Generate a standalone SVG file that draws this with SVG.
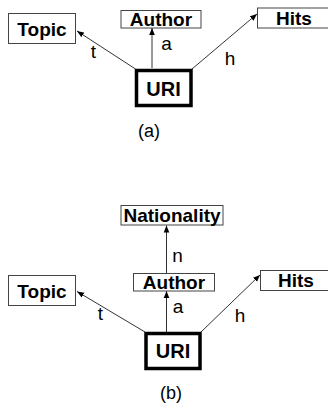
<svg xmlns="http://www.w3.org/2000/svg" width="328" height="410" viewBox="0 0 328 410">
<style>
.box{fill:#fff;stroke:#444;stroke-width:1}
.uri{fill:#fff;stroke:#000;stroke-width:3.5}
.nl{font-family:"Liberation Sans",Arial,sans-serif;font-weight:bold;font-size:19px;fill:#000;text-anchor:middle}
.ul{font-family:"Liberation Sans",Arial,sans-serif;font-weight:bold;font-size:20px;fill:#000;text-anchor:middle}
.el{font-family:"Liberation Sans",Arial,sans-serif;font-size:19px;fill:#000;text-anchor:middle}
.cap{font-family:"Liberation Sans",Arial,sans-serif;font-size:18px;fill:#000;text-anchor:middle}
.edge{stroke:#333;stroke-width:1;fill:none;marker-end:url(#ah)}
</style>
<defs>
<marker id="ah" viewBox="0 0 10 10" refX="10" refY="5" markerWidth="7" markerHeight="7" markerUnits="userSpaceOnUse" orient="auto">
<path d="M0,1 L10,5 L0,9 z" fill="#000"/>
</marker>
</defs>
<g id="connectors">
<line class="edge" x1="135.5" y1="69" x2="77" y2="31"/>
<line class="edge" x1="152" y1="68" x2="152" y2="28"/>
<line class="edge" x1="192" y1="69" x2="257" y2="14"/>
<line class="edge" x1="145" y1="332" x2="77" y2="291.5"/>
<line class="edge" x1="166.5" y1="332" x2="166.5" y2="291"/>
<line class="edge" x1="166.5" y1="273.5" x2="166.5" y2="225.5"/>
<line class="edge" x1="201" y1="332" x2="260" y2="275"/>
<text class="el" x="93.5" y="58">t</text>
<text class="el" x="166.5" y="50">a</text>
<text class="el" x="230" y="65">h</text>
<text class="el" x="100.5" y="320">t</text>
<text class="el" x="178" y="313">a</text>
<text class="el" x="177.5" y="262">n</text>
<text class="el" x="240" y="321.5">h</text>
</g>
<g id="topic-a"><rect class="box" x="8.5" y="13.5" width="67" height="30"/><text class="nl" x="42" y="35.5">Topic</text></g>
<g id="author-a"><rect class="box" x="121" y="10.5" width="80" height="17.5"/><text class="nl" x="161" y="26">Author</text></g>
<g id="hits-a"><rect class="box" x="257.5" y="8" width="80" height="20"/><text class="nl" x="294" y="25">Hits</text></g>
<g id="uri-a"><rect class="uri" x="136.5" y="70.5" width="54.5" height="35"/><text class="ul" x="163.5" y="96">URI</text></g>
<text class="cap" x="149" y="137">(a)</text>
<g id="nationality-b"><rect class="box" x="121" y="205.5" width="102" height="19.5"/><text class="nl" x="172" y="222">Nationality</text></g>
<g id="author-b"><rect class="box" x="133.5" y="273.5" width="81" height="17.5"/><text class="nl" x="174" y="289">Author</text></g>
<g id="topic-b"><rect class="box" x="8.5" y="275.5" width="67" height="30"/><text class="nl" x="42" y="297.5">Topic</text></g>
<g id="hits-b"><rect class="box" x="260.5" y="270.5" width="80" height="20"/><text class="nl" x="296" y="287">Hits</text></g>
<g id="uri-b"><rect class="uri" x="146" y="333.5" width="54" height="35"/><text class="ul" x="173" y="358">URI</text></g>
<text class="cap" x="171" y="399">(b)</text>
</svg>
